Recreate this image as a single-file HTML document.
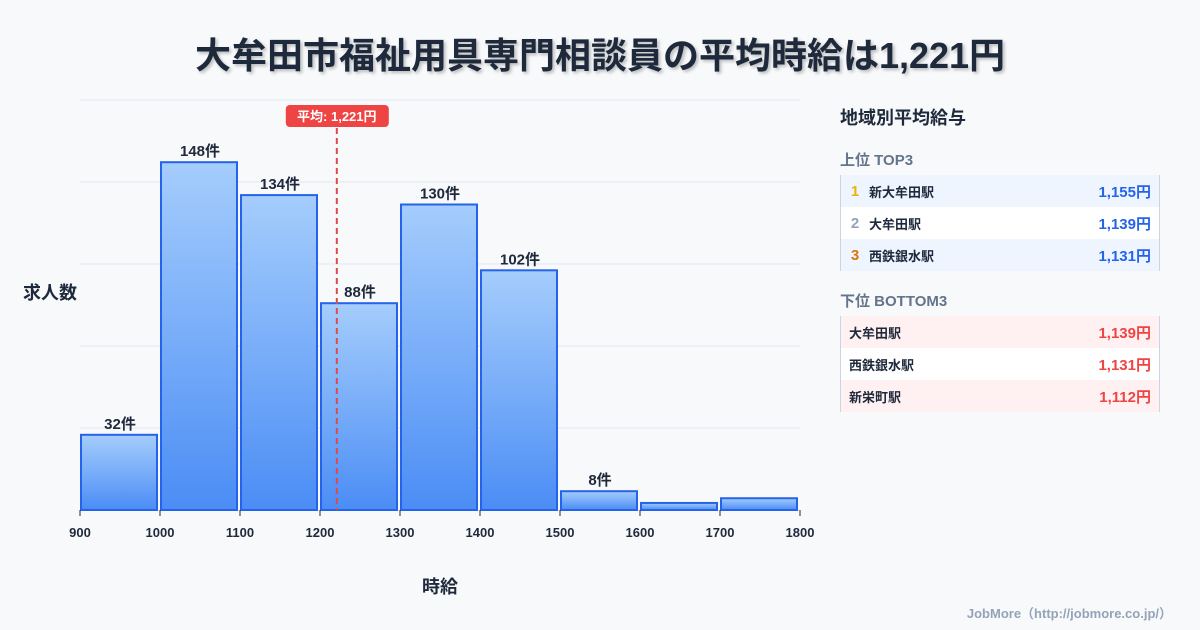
<!DOCTYPE html>
<html><head><meta charset="utf-8"><style>
body{margin:0;width:1200px;height:630px;background:#f8f9fb;font-family:"Liberation Sans","Noto Sans CJK JP",sans-serif;overflow:hidden;position:relative;color:#1e293b}
.title{position:absolute;top:27px;left:0;width:1200px;text-align:center;font-size:36px;font-weight:bold;color:#1e293b;text-shadow:2px 2px 3px rgba(0,0,0,0.25)}
.panel{position:absolute;left:840px;width:320px}
.row{height:32px;display:flex;align-items:center;font-size:13px;font-weight:bold;border-left:1px solid #cbd5e1;border-right:1px solid #cbd5e1;box-sizing:border-box}
.val{margin-left:auto;margin-right:8px;font-size:15px}
</style></head><body>
<div class="title">大牟田市福祉用具専門相談員の平均時給は1,221円</div>
<svg id="chart" width="1200" height="630" style="position:absolute;left:0;top:0">
<defs><linearGradient id="g" x1="0" y1="0" x2="0" y2="1"><stop offset="0" stop-color="#a5cdfc"/><stop offset="1" stop-color="#4b8df5"/></linearGradient></defs>
<text x="50" y="299" font-size="18" font-weight="bold" text-anchor="middle" fill="#1e293b">求人数</text>
<text x="440" y="593" font-size="18" font-weight="bold" text-anchor="middle" fill="#1e293b">時給</text>
</svg>
<div class="panel" style="top:104px;font-size:18px;font-weight:bold">地域別平均給与</div>
<div class="panel" style="top:149px;font-size:15px;font-weight:bold;color:#64748b">上位 TOP3</div>
<div class="panel" style="top:175px">
<div class="row" style="background:#eef5ff"><span style="color:#eab308;width:28px;text-align:center;font-size:15px">1</span>新大牟田駅<span class="val" style="color:#2563eb">1,155円</span></div>
<div class="row" style="background:#fff"><span style="color:#94a3b8;width:28px;text-align:center;font-size:15px">2</span>大牟田駅<span class="val" style="color:#2563eb">1,139円</span></div>
<div class="row" style="background:#eef5ff"><span style="color:#d97706;width:28px;text-align:center;font-size:15px">3</span>西鉄銀水駅<span class="val" style="color:#2563eb">1,131円</span></div>
</div>
<div class="panel" style="top:290px;font-size:15px;font-weight:bold;color:#64748b">下位 BOTTOM3</div>
<div class="panel" style="top:316px">
<div class="row" style="background:#fff1f1;padding-left:8px">大牟田駅<span class="val" style="color:#ef4444">1,139円</span></div>
<div class="row" style="background:#fff;padding-left:8px">西鉄銀水駅<span class="val" style="color:#ef4444">1,131円</span></div>
<div class="row" style="background:#fff1f1;padding-left:8px">新栄町駅<span class="val" style="color:#ef4444">1,112円</span></div>
</div>
<div style="position:absolute;right:28px;top:603px;font-size:13px;font-weight:bold;color:#94a3b8">JobMore（http://jobmore.co.jp/）</div>
<script>
const binStarts=[900,1000,1100,1200,1300,1400,1500,1600,1700];
const counts=[32,148,134,88,130,102,8,3,5];
const labels=["32件","148件","134件","88件","130件","102件","8件","",""];
const xTicks=[900,1000,1100,1200,1300,1400,1500,1600,1700,1800];
const avg=1221;
const avgLabel="平均: 1,221円";
const NS="http://www.w3.org/2000/svg";
const svg=document.getElementById('chart');
const X=v=>80+(v-900)*0.8;
const Y=c=>510-c*2.35;
function mk(t,a){const e=document.createElementNS(NS,t);for(const k in a)e.setAttribute(k,a[k]);svg.appendChild(e);return e;}
for(let i=0;i<6;i++){const g=mk('line',{x1:80,x2:800,y1:510-i*82,y2:510-i*82,stroke:'#e2e8f0','stroke-width':1});

}
binStarts.forEach((b,i)=>{
const r=mk('rect',{x:X(b)+1,y:Y(counts[i]),width:76,height:510-Y(counts[i]),fill:'url(#g)',stroke:'#2563eb','stroke-width':2});


if(labels[i]){const t=mk('text',{x:X(b)+40,y:Y(counts[i])-6,'font-size':15,'font-weight':'bold','text-anchor':'middle',fill:'#1e293b'});t.textContent=labels[i];

}
});
xTicks.forEach(v=>{mk('line',{x1:X(v),x2:X(v),y1:510,y2:516,stroke:'#1e293b'});
const t=mk('text',{x:X(v),y:537,'font-size':13,'font-weight':'bold','text-anchor':'middle',fill:'#1e293b'});t.textContent=v;

});
const al=mk('line',{x1:X(avg),x2:X(avg),y1:128,y2:510,stroke:'#dc4a4a','stroke-width':2,'stroke-dasharray':'6,4'});


const ab=mk('rect',{x:X(avg)-51,y:105,width:103,height:22,rx:4,fill:'#ef4444'});


const at=mk('text',{x:X(avg),y:121,'font-size':13,'font-weight':'bold','text-anchor':'middle',fill:'#fff'});at.textContent=avgLabel;


</script>
</body></html>
